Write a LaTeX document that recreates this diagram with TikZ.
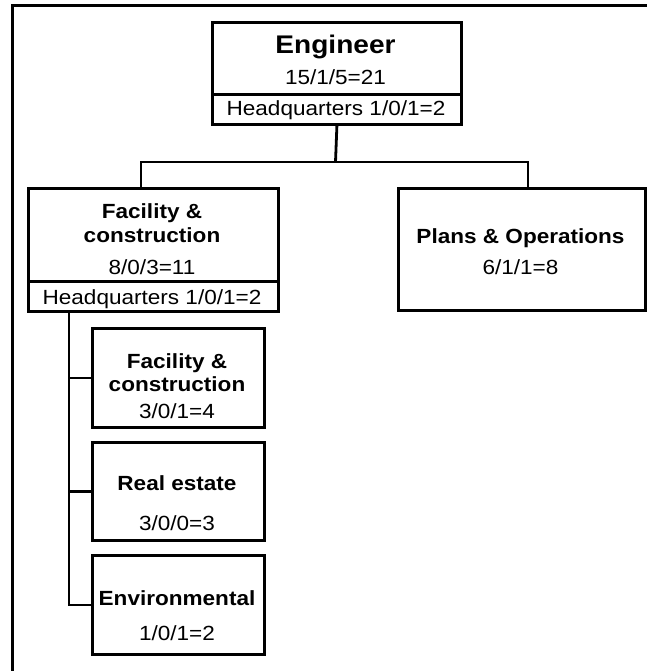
\documentclass[tikz,border=0pt]{standalone}
\usepackage{fontspec}
\setmainfont{Liberation Sans}[FakeStretch=1.1]
\begin{document}
\begin{tikzpicture}[x=1pt,y=-1pt,
  box/.style={draw=black,line width=2.8pt,rectangle,inner sep=0pt,anchor=north west},
  wire/.style={draw=black,line width=2.8pt},
  lbl/.style={anchor=base,inner sep=0pt,font=\fontsize{20.5}{24}\selectfont},
  blbl/.style={lbl,font=\fontsize{20.5}{24}\selectfont\bfseries},
  title/.style={lbl,font=\fontsize{25.5}{30}\selectfont\bfseries}]
  \useasboundingbox (0,0) rectangle (647,671);
  % page frame: top and left rules only
  \draw[line width=3pt] (12,671) -- (12,6) -- (647,6);

  % boxes
  \node[box,minimum width=249pt,minimum height=72pt] (eng) at (211,21) {};
  \node[box,minimum width=249pt,minimum height=30pt] (enghq) at (211,93) {};
  \node[box,minimum width=250pt,minimum height=93pt] (fac) at (27,187) {};
  \node[box,minimum width=250pt,minimum height=30pt] (fachq) at (27,280) {};
  \node[box,minimum width=247pt,minimum height=122pt] (plans) at (397,187) {};
  \node[box,minimum width=172pt,minimum height=99pt] (sub1) at (91,327) {};
  \node[box,minimum width=172pt,minimum height=98pt] (sub2) at (91,441) {};
  \node[box,minimum width=172pt,minimum height=99pt] (sub3) at (91,554) {};

  % texts
  \node[title] (tEng) at (335.5,54) {Engineer};
  \node[lbl] (tEngN) at (335.5,85) {15/1/5=21};
  \node[lbl] (tEngHQ) at (336,115.5) {Headquarters 1/0/1=2};

  \node[blbl] (tFac1) at (152,218) {Facility \&};
  \node[blbl] (tFac2) at (152,242) {construction};
  \node[lbl] (tFacN) at (152,274) {8/0/3=11};
  \node[lbl] (tFacHQ) at (152,304) {Headquarters 1/0/1=2};

  \node[blbl] (tPlans) at (520.5,243) {Plans \& Operations};
  \node[lbl] (tPlansN) at (520.5,274) {6/1/1=8};

  \node[blbl] (tS1a) at (177,368) {Facility \&};
  \node[blbl] (tS1b) at (177,391) {construction};
  \node[lbl] (tS1N) at (177,418) {3/0/1=4};

  \node[blbl] (tS2) at (177,490) {Real estate};
  \node[lbl] (tS2N) at (177,530) {3/0/0=3};

  \node[blbl] (tS3) at (177,605) {Environmental};
  \node[lbl] (tS3N) at (177,640) {1/0/1=2};

  % connectors
  \coordinate (bus) at (335.5,162);
  \coordinate (busL) at (141,162);
  \coordinate (busR) at (528,162);
  \draw[wire] (enghq.south) -- (bus);
  \draw[wire] (busL |- fac.north) -- (busL) -- (busR) -- (busR |- plans.north);

  \coordinate (trunk) at (69,310);
  \draw[wire] (trunk) |- (sub3.west);
  \draw[wire] (trunk |- sub1.west) -- (sub1.west);
  \draw[wire] (trunk |- sub2.west) -- (sub2.west);
\end{tikzpicture}
\end{document}
